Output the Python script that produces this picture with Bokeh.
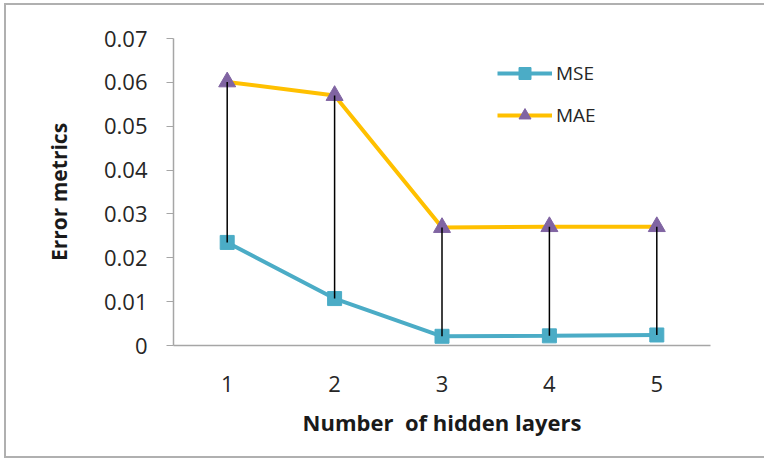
from bokeh.plotting import figure
from bokeh.models import (FactorRange, Range1d, FixedTicker, NumeralTickFormatter,
                          Legend, LegendItem, InlineStyleSheet)
from bokeh.embed import file_html
from bokeh.resources import INLINE

layers = ["1", "2", "3", "4", "5"]
mse = [0.0235, 0.0107, 0.0021, 0.0022, 0.0024]
mae = [0.0601, 0.0570, 0.0269, 0.0271, 0.0271]
y_ticks = [0.0, 0.01, 0.02, 0.03, 0.04, 0.05, 0.06, 0.07]

FONT = "Open Sans"
TXT = "#262626"
AXC = "#a6a6a6"

border_css = InlineStyleSheet(css="""
:host { position: relative; }
:host::after {
  content: ''; position: absolute; left: 4px; top: 3px; width: 820px; height: 455px;
  border: 2px solid #b0b0b0; box-sizing: border-box; pointer-events: none; z-index: 10;
}
""")

p = figure(width=764, height=459, x_range=FactorRange(*layers, range_padding=0),
           y_range=Range1d(0, 0.07), output_backend="svg", toolbar_location=None,
           title=None, min_border_left=173, min_border_right=54,
           min_border_top=38, min_border_bottom=114, stylesheets=[border_css])
p.outline_line_color = None
p.xgrid.visible = False
p.ygrid.visible = False
p.background_fill_color = "white"
p.border_fill_color = "white"

# axes
p.yaxis.ticker = FixedTicker(ticks=y_ticks)
p.yaxis.formatter = NumeralTickFormatter(format="0.[00]")
p.yaxis.minor_tick_line_color = None
p.yaxis.major_tick_out = 7
p.yaxis.major_tick_in = 0
p.yaxis.major_tick_line_color = AXC
p.yaxis.axis_line_color = AXC
p.yaxis.axis_line_width = 1.5
p.yaxis.major_label_standoff = 19
p.yaxis.axis_label = "Error metrics"
p.yaxis.axis_label_standoff = 28

p.xaxis.major_tick_line_color = None
p.xaxis.minor_tick_line_color = None
p.xaxis.axis_line_color = AXC
p.xaxis.axis_line_width = 1.5
p.xaxis.major_label_standoff = 24
p.xaxis.axis_label = "Number\u00a0 of hidden layers"
p.xaxis.axis_label_standoff = 12

for ax in (p.xaxis, p.yaxis):
    ax.major_label_text_font = FONT
    ax.major_label_text_font_size = "22px"
    ax.major_label_text_color = TXT
    ax.axis_label_text_font = FONT
    ax.axis_label_text_font_style = "bold"
    ax.axis_label_text_color = "#1a1a1a"
p.xaxis.axis_label_text_font_size = "22px"
p.yaxis.axis_label_text_font_size = "21px"

# series
l1 = p.line(layers, mse, line_color="#4BACC6", line_width=4)
s1 = p.scatter(layers, mse, marker="square", size=14, fill_color="#4BACC6", line_color="#4BACC6")
l2 = p.line(layers, mae, line_color="#FFC000", line_width=4)
s2 = p.scatter(layers, mae, marker="triangle", size=17, fill_color="#8064A2", line_color="#8064A2")

# high-low lines
p.segment(x0=layers, y0=mse, x1=layers, y1=mae, line_color="black", line_width=1.5)

legend = Legend(items=[LegendItem(label="MSE", renderers=[l1, s1]),
                       LegendItem(label="MAE", renderers=[l2, s2])],
                location=(324, 215), padding=0, margin=0, border_line_color=None,
                background_fill_alpha=0, glyph_width=55, glyph_height=30, spacing=12,
                label_standoff=4, label_text_font=FONT, label_text_font_size="19px",
                label_text_color=TXT)
p.add_layout(legend)

open("out.html", "w").write(file_html(p, INLINE))
